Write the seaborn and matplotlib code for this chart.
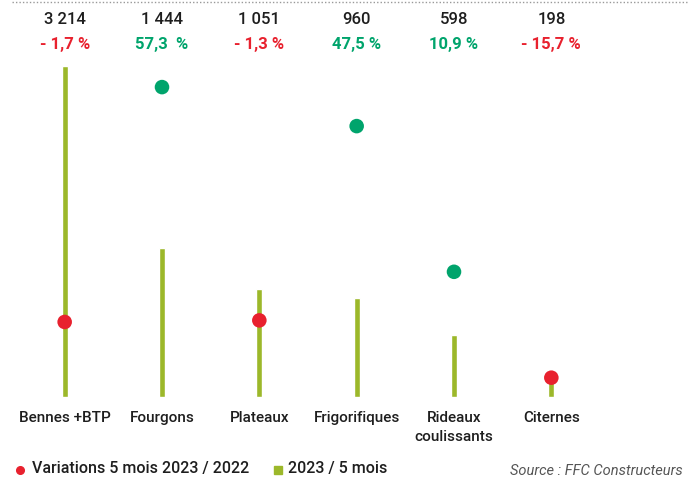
import seaborn as sns
import matplotlib.pyplot as plt
import matplotlib.transforms as mtransforms
from matplotlib.lines import Line2D
import pandas as pd

categories = ["Bennes +BTP", "Fourgons", "Plateaux", "Frigorifiques",
              "Rideaux\ncoulissants", "Citernes"]
volumes = [3214, 1444, 1051, 960, 598, 198]
variations = [-1.7, 57.3, -1.3, 47.5, 10.9, -15.7]
volume_labels = ["3 214", "1 444", "1 051", "960", "598", "198"]
variation_labels = ["- 1,7 %", "57,3  %", "- 1,3 %", "47,5 %", "10,9 %", "- 15,7 %"]

OLIVE = "#9CB82A"
RED = "#E8212E"
GREEN = "#00A46C"
TXT = "#1E1E1E"
FONT = ["Roboto", "DejaVu Sans"]

sns.set_style("white")
plt.rcParams["font.family"] = FONT
plt.rcParams["font.weight"] = 500

df = pd.DataFrame({"cat": categories, "vol": volumes, "var": variations})
df["pos"] = range(len(df))
df["sign"] = ["neg" if v < 0 else "pos" for v in variations]

fig = plt.figure(figsize=(6.88, 4.79), dpi=100)
ax = fig.add_axes([16 / 688, 82 / 479, 584 / 688, 331 / 479])

# bars : volumes 2023 / 5 mois
sns.barplot(data=df, x="cat", y="vol", color=OLIVE, width=0.062,
            saturation=1, ax=ax)
ax.set_ylim(0, 3214)
ax.set_xlim(-0.5, 5.5)

# points : variations on a second axis
ax2 = ax.twinx()
sns.scatterplot(data=df, x="pos", y="var", hue="sign",
                palette={"neg": RED, "pos": GREEN}, s=110, linewidth=0,
                legend=False, ax=ax2, zorder=3)
ax2.set_ylim(-20.55, 62.6)
ax2.set_xlim(-0.5, 5.5)

for a in (ax, ax2):
    a.set_xlabel("")
    a.set_ylabel("")
    a.set_yticks([])
    sns.despine(ax=a, left=True, right=True, top=True, bottom=True)
ax.tick_params(axis="x", length=0, pad=10, labelsize=11, colors=TXT)
ax.set_xticks(range(len(categories)))
ax.set_xticklabels(categories, linespacing=1.45, va="top")

# labels above the chart
trans = mtransforms.blended_transform_factory(ax.transData, fig.transFigure)
for i in range(len(categories)):
    ax.text(i, 1 - 19 / 479, volume_labels[i], transform=trans, ha="center",
            va="center", fontsize=12, color=TXT)
    ax.text(i, 1 - 44 / 479, variation_labels[i], transform=trans,
            ha="center", va="center", fontsize=12, fontweight="bold",
            color=RED if variations[i] < 0 else GREEN)

# dotted line at the top
fig.add_artist(Line2D([12 / 688, 1], [1 - 1.5 / 479] * 2, color="#999999",
                      linestyle=(0, (1, 1.5)), linewidth=1,
                      transform=fig.transFigure))

# legend
fig.add_artist(Line2D([20 / 688], [1 - 470 / 479], marker="o", markersize=5.5,
                      color=RED, linestyle="none", transform=fig.transFigure))
fig.text(32 / 688, 1 - 468 / 479, "Variations 5 mois 2023 / 2022",
         fontsize=11.5, color=TXT, va="center")
fig.add_artist(Line2D([278 / 688], [1 - 470 / 479], marker="s", markersize=5.5,
                      color=OLIVE, linestyle="none", transform=fig.transFigure))
fig.text(288 / 688, 1 - 468 / 479, "2023 / 5 mois", fontsize=11.5,
         color=TXT, va="center")
fig.text(683 / 688, 1 - 471 / 479, "Source : FFC Constructeurs", fontsize=10.5,
         style="italic", fontweight="normal", color="#555555", ha="right",
         va="center")

fig.savefig("out.png", dpi=100)
